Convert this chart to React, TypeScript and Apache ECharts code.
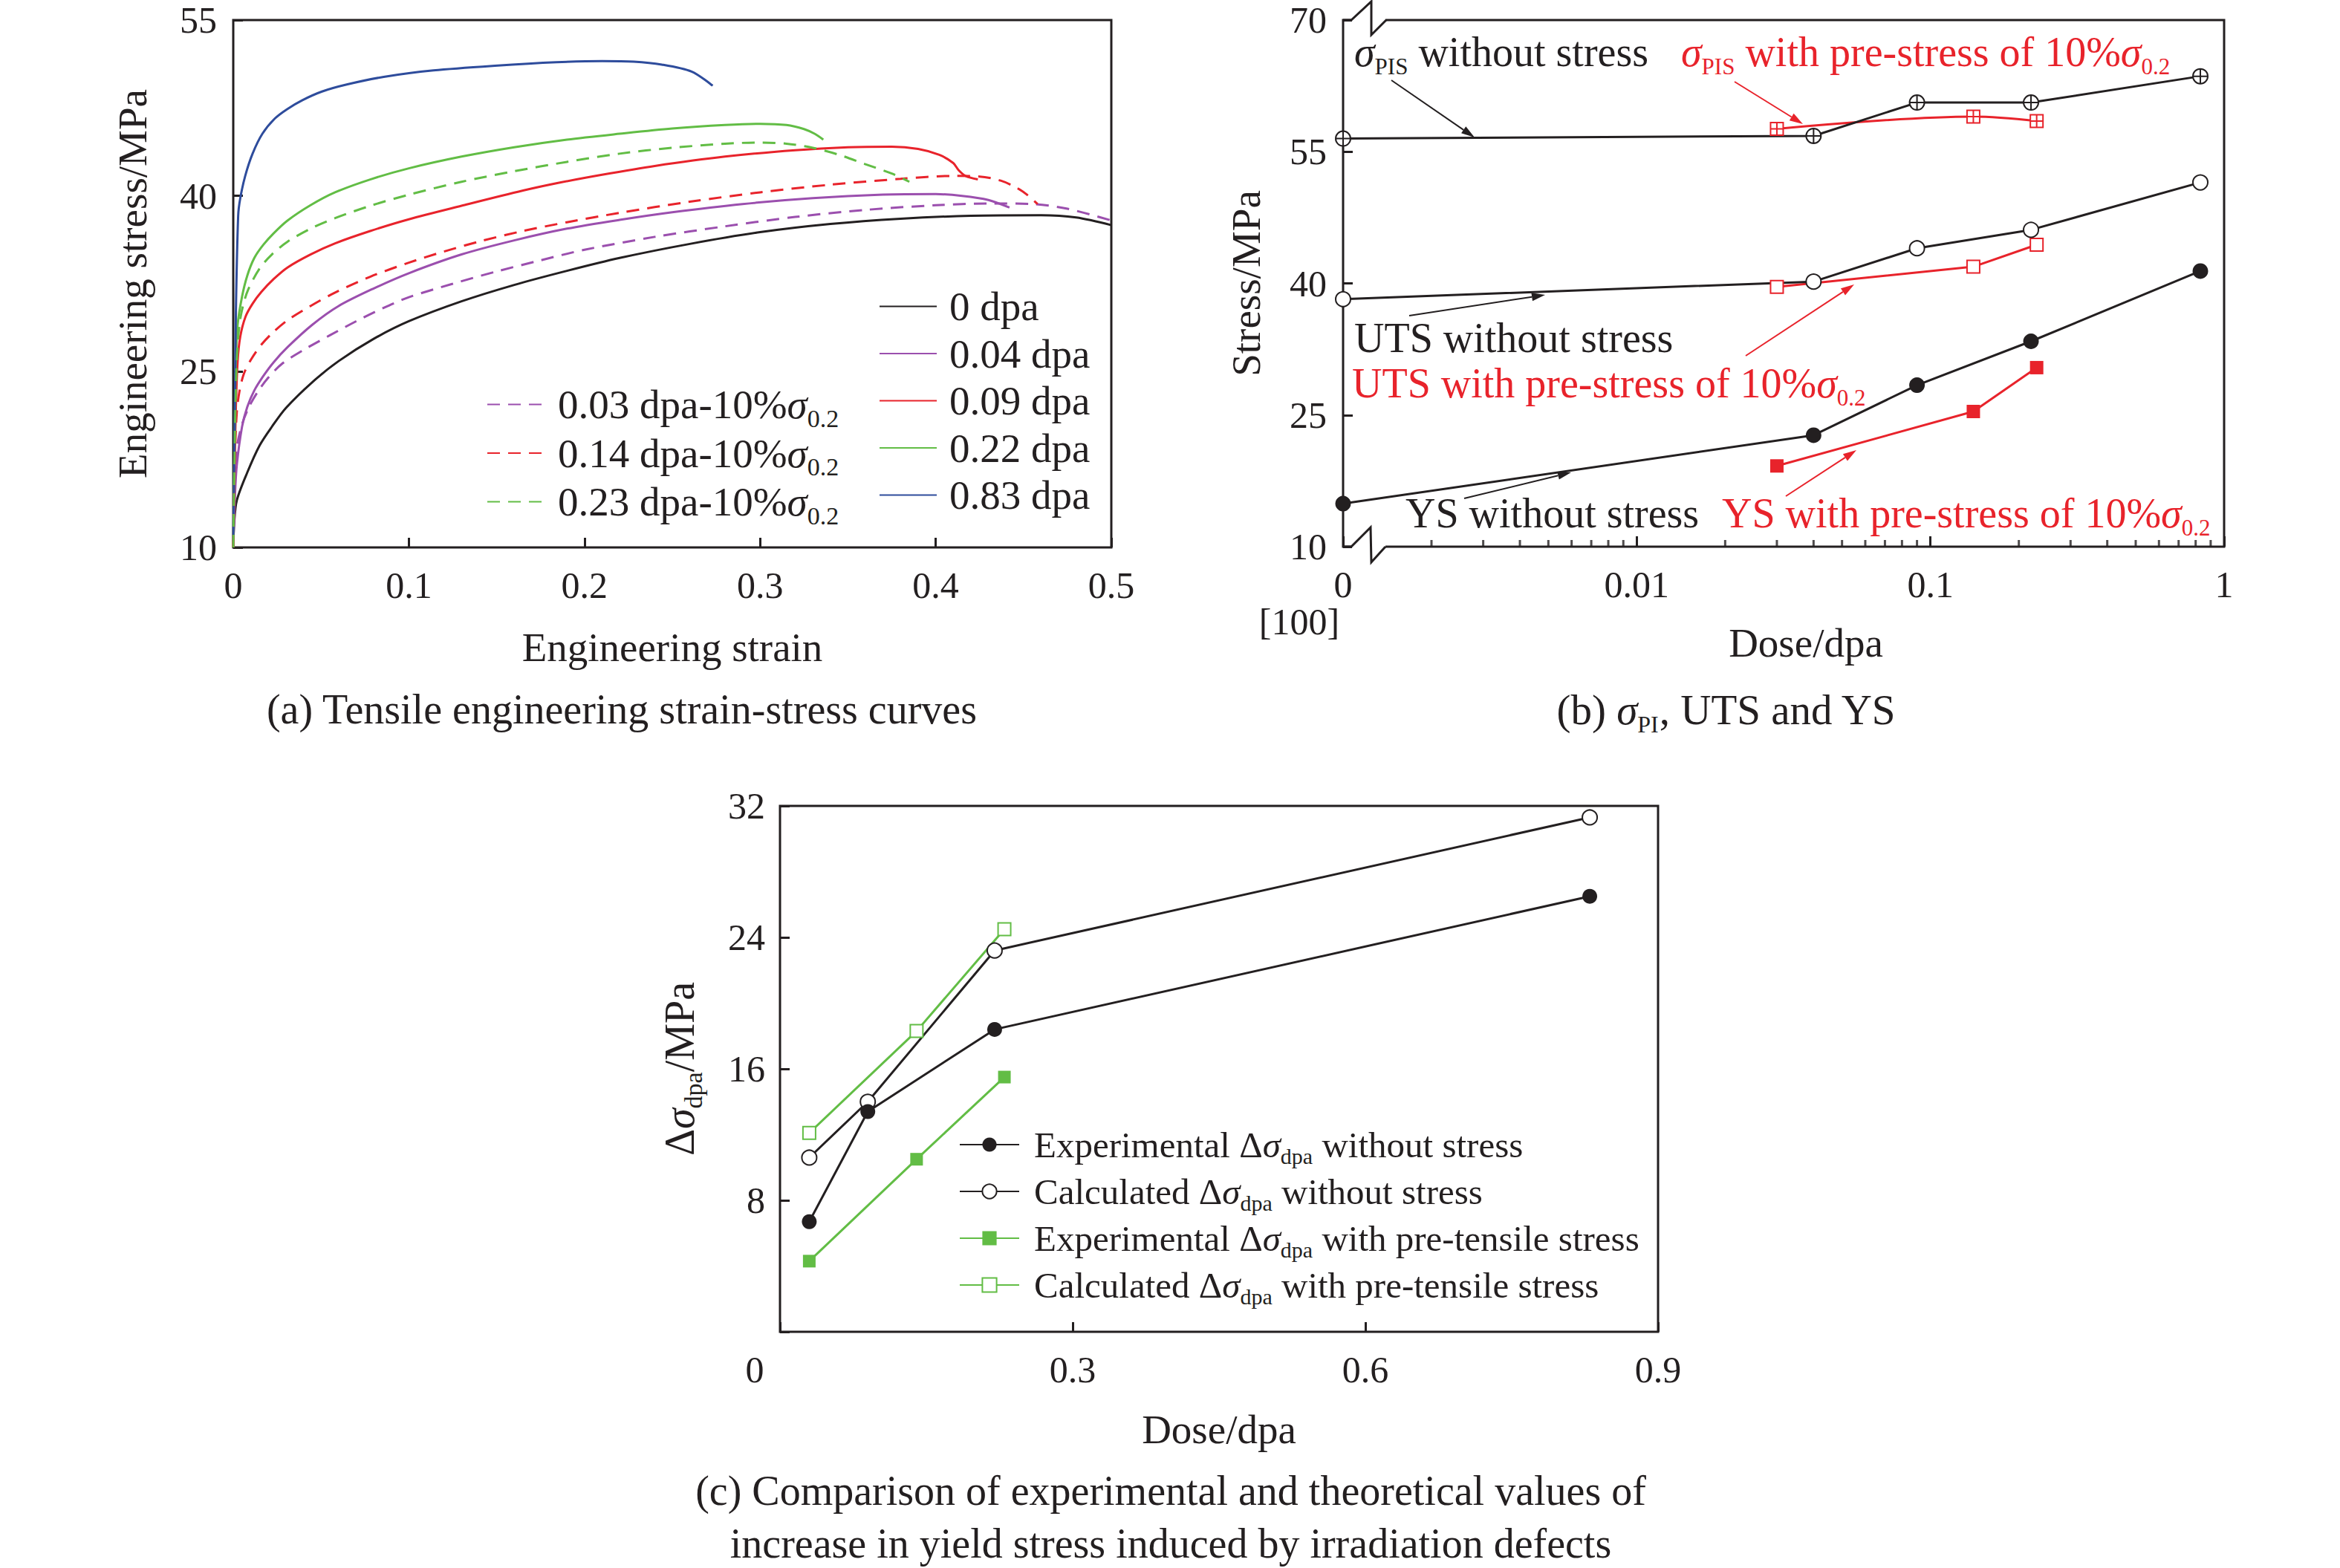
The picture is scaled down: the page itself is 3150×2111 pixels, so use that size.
import React, { useEffect, useRef } from 'react';
import * as echarts from 'echarts';

const FONT = "'Liberation Serif', 'Times New Roman', serif";
const BLACK = '#231f20';
const RED = '#e8232b';
const GREEN = '#62bd45';
const PURPLE = '#9b4fae';
const BLUE = '#2e4c9c';

// ---------- Panel (a): tensile curves [strain, stress MPa] ----------
const curve0dpa = [[0, 10.0], [0.0005, 12.0], [0.002, 14.0], [0.008, 16.4], [0.015, 18.7], [0.022, 20.3], [0.03, 21.9], [0.045, 24.1], [0.06, 25.9], [0.08, 27.8], [0.1, 29.3], [0.13, 31.0], [0.16, 32.4], [0.19, 33.6], [0.22, 34.7], [0.26, 35.9], [0.3, 36.9], [0.34, 37.6], [0.38, 38.05], [0.42, 38.3], [0.46, 38.35], [0.48, 38.15], [0.5, 37.5]];
const curve004dpa = [[0, 10], [0.001, 14.5], [0.002, 17], [0.005, 20.3], [0.008, 22.0], [0.012, 23.4], [0.017, 24.6], [0.023, 25.8], [0.031, 27.1], [0.045, 29.0], [0.06, 30.6], [0.08, 32.1], [0.1, 33.4], [0.13, 35.0], [0.16, 36.2], [0.19, 37.2], [0.22, 37.95], [0.25, 38.6], [0.29, 39.3], [0.33, 39.8], [0.37, 40.1], [0.4, 40.15], [0.415, 40.0], [0.43, 39.65], [0.442, 39.0]];
const curve009dpa = [[0, 10], [0.0008, 17], [0.0015, 22], [0.0025, 25.9], [0.004, 28.0], [0.007, 29.7], [0.011, 30.8], [0.016, 31.8], [0.023, 32.9], [0.031, 33.9], [0.044, 35.0], [0.058, 35.95], [0.078, 37.0], [0.1, 38.0], [0.13, 39.15], [0.165, 40.45], [0.185, 41.1], [0.21, 41.8], [0.24, 42.55], [0.28, 43.35], [0.32, 43.9], [0.35, 44.15], [0.375, 44.2], [0.39, 44.0], [0.402, 43.5], [0.41, 42.8], [0.413, 42.2], [0.417, 41.7], [0.424, 41.4]];
const curve022dpa = [[0, 10], [0.0008, 20], [0.0015, 26], [0.0025, 29.0], [0.005, 31.4], [0.008, 33.2], [0.012, 34.7], [0.017, 35.8], [0.023, 36.8], [0.031, 37.9], [0.044, 39.2], [0.058, 40.3], [0.078, 41.4], [0.1, 42.35], [0.13, 43.35], [0.16, 44.15], [0.19, 44.8], [0.22, 45.3], [0.25, 45.75], [0.28, 46.05], [0.3, 46.15], [0.315, 46.05], [0.325, 45.7], [0.331, 45.3], [0.336, 44.8]];
const curve083dpa = [[0, 10.5], [0.0008, 20], [0.0015, 30], [0.0028, 38.3], [0.004, 39.8], [0.0068, 41.7], [0.011, 43.6], [0.0166, 45.3], [0.0237, 46.6], [0.0307, 47.4], [0.0392, 48.15], [0.0505, 48.9], [0.0646, 49.5], [0.0857, 50.15], [0.114, 50.7], [0.149, 51.1], [0.184, 51.4], [0.21, 51.5], [0.228, 51.45], [0.244, 51.2], [0.261, 50.6], [0.273, 49.4]];
const curve003pre = [[0, 10], [0.001, 16], [0.002, 18.5], [0.005, 20.5], [0.009, 22.0], [0.014, 23.3], [0.02, 24.5], [0.028, 25.7], [0.04, 26.85], [0.055, 28.1], [0.07, 29.3], [0.085, 30.4], [0.1, 31.35], [0.125, 32.5], [0.15, 33.55], [0.175, 34.5], [0.2, 35.4], [0.24, 36.5], [0.28, 37.4], [0.32, 38.2], [0.36, 38.8], [0.4, 39.2], [0.43, 39.35], [0.455, 39.3], [0.475, 38.9], [0.5, 37.9]];
const curve014pre = [[0, 10], [0.001, 18], [0.002, 21.5], [0.0035, 23.3], [0.006, 24.8], [0.01, 26.0], [0.016, 27.3], [0.023, 28.4], [0.031, 29.4], [0.044, 30.6], [0.058, 31.75], [0.078, 33.1], [0.1, 34.3], [0.12, 35.25], [0.14, 36.1], [0.165, 37.0], [0.19, 37.75], [0.22, 38.55], [0.26, 39.5], [0.3, 40.3], [0.34, 40.95], [0.38, 41.45], [0.41, 41.7], [0.425, 41.65], [0.437, 41.3], [0.446, 40.7], [0.452, 40.1], [0.458, 39.3]];
const curve023pre = [[0, 10], [0.001, 20], [0.002, 26], [0.0035, 29.0], [0.0055, 30.6], [0.0085, 32.0], [0.015, 33.8], [0.022, 35.0], [0.031, 36.1], [0.044, 37.2], [0.058, 38.1], [0.078, 39.15], [0.1, 40.1], [0.13, 41.2], [0.16, 42.1], [0.19, 42.9], [0.22, 43.6], [0.25, 44.1], [0.28, 44.45], [0.3, 44.55], [0.315, 44.45], [0.33, 44.1], [0.345, 43.5], [0.36, 42.7], [0.375, 41.9], [0.385, 41.2]];

// ---------- Panel (b): stresses vs dose (log axis, 0 dpa drawn at 0.001) ----------
const pisWithout = [[0.001, 56.5], [0.04, 56.8], [0.09, 60.6], [0.22, 60.6], [0.83, 63.6]];
const pisWith = [[0.03, 57.6], [0.14, 59.0], [0.23, 58.5]];
const utsWithout = [[0.001, 38.2], [0.04, 40.2], [0.09, 44.0], [0.22, 46.1], [0.83, 51.5]];
const utsWith = [[0.03, 39.6], [0.14, 41.9], [0.23, 44.4]];
const ysWithout = [[0.001, 14.9], [0.04, 22.7], [0.09, 28.4], [0.22, 33.4], [0.83, 41.4]];
const ysWith = [[0.03, 19.2], [0.14, 25.4], [0.23, 30.4]];
const logMinorTicks = [0.002, 0.003, 0.004, 0.005, 0.006, 0.007, 0.008, 0.009, 0.02, 0.03, 0.04, 0.05, 0.06, 0.07, 0.08, 0.09, 0.2, 0.3, 0.4, 0.5, 0.6, 0.7, 0.8, 0.9];

// ---------- Panel (c): Δσ_dpa ----------
const doseNoStress = [0.03, 0.09, 0.22, 0.83];
const expNoStress = [6.7, 13.4, 18.4, 26.5];
const calcNoStress = [10.6, 14.0, 23.2, 31.3];
const dosePre = [0.03, 0.14, 0.23];
const expPre = [4.3, 10.5, 15.5];
const calcPre = [12.1, 18.3, 24.5];

const zip = (xs: number[], ys: number[]) => xs.map((x, i) => [x, ys[i]]);

// ---------- layout constants ----------
const GRID_A = { left: 314, top: 27, width: 1182, height: 710 };
const GRID_B = { left: 1808, top: 27, width: 1186, height: 709 };
const GRID_C = { left: 1050, top: 1085, width: 1182, height: 708 };

const ANNOTATIONS = [
  { text: '{i|σ}{s|PIS}{t| without stress}', x: 1823, y: 70, color: BLACK, from: [1873, 108], to: [1985, 185] },
  { text: '{i|σ}{s|PIS}{t| with pre-stress of 10%}{i|σ}{s|0.2}', x: 2263, y: 70, color: RED, from: [2335, 110], to: [2427, 167] },
  { text: '{t|UTS without stress}', x: 1823, y: 455, color: BLACK, from: [1897, 425], to: [2080, 397] },
  { text: '{t|UTS with pre-stress of 10%}{i|σ}{s|0.2}', x: 1820, y: 516, color: RED, from: [2350, 479], to: [2496, 383] },
  { text: '{t|YS without stress}', x: 1892, y: 691, color: BLACK, from: [1971, 671], to: [2115, 636] },
  { text: '{t|YS with pre-stress of 10%}{i|σ}{s|0.2}', x: 2318, y: 691, color: RED, from: [2404, 668], to: [2499, 606] },
];

const richA = {
  t: { fontFamily: FONT, fontSize: 55, color: BLACK, verticalAlign: 'middle' },
  i: { fontFamily: FONT, fontSize: 55, fontStyle: 'italic', color: BLACK, verticalAlign: 'middle' },
  s: { fontFamily: FONT, fontSize: 34, lineHeight: 30, padding: [37, 0, 0, 0], color: BLACK, verticalAlign: 'middle' },
};
const richC = {
  t: { fontFamily: FONT, fontSize: 49, color: BLACK, verticalAlign: 'middle' },
  i: { fontFamily: FONT, fontSize: 49, fontStyle: 'italic', color: BLACK, verticalAlign: 'middle' },
  s: { fontFamily: FONT, fontSize: 30, lineHeight: 28, padding: [30, 0, 0, 0], color: BLACK, verticalAlign: 'middle' },
};
const richName = {
  t: { fontFamily: FONT, fontSize: 56, lineHeight: 64, color: BLACK, verticalAlign: 'middle' },
  i: { fontFamily: FONT, fontSize: 56, lineHeight: 64, fontStyle: 'italic', color: BLACK, verticalAlign: 'middle' },
  s: { fontFamily: FONT, fontSize: 34, lineHeight: 28, padding: [36, 0, 0, 0], color: BLACK, verticalAlign: 'middle' },
};
const gRich = {
  t: { fontFamily: FONT, fontSize: 56, lineHeight: 63, verticalAlign: 'middle' },
  i: { fontFamily: FONT, fontSize: 56, lineHeight: 63, fontStyle: 'italic', verticalAlign: 'middle' },
  s: { fontFamily: FONT, fontSize: 31, lineHeight: 25, padding: [39, 0, 0, 0], verticalAlign: 'middle' },
};

const LEGEND_NAMES: Record<string, string> = {
  '0.03 dpa-10%σ0.2': '{t|0.03 dpa-10%}{i|σ}{s|0.2}',
  '0.14 dpa-10%σ0.2': '{t|0.14 dpa-10%}{i|σ}{s|0.2}',
  '0.23 dpa-10%σ0.2': '{t|0.23 dpa-10%}{i|σ}{s|0.2}',
  'Experimental Δσdpa without stress': '{t|Experimental Δ}{i|σ}{s|dpa}{t| without stress}',
  'Calculated Δσdpa without stress': '{t|Calculated Δ}{i|σ}{s|dpa}{t| without stress}',
  'Experimental Δσdpa with pre-tensile stress': '{t|Experimental Δ}{i|σ}{s|dpa}{t| with pre-tensile stress}',
  'Calculated Δσdpa with pre-tensile stress': '{t|Calculated Δ}{i|σ}{s|dpa}{t| with pre-tensile stress}',
};

const CIRCLE_CROSS = 'path://M10,0A10,10 0 1,1 10,20A10,10 0 1,1 10,0Z M0,10L20,10 M10,0L10,20';
const SQUARE_CROSS = 'path://M0,0L20,0L20,20L0,20Z M0,10L20,10 M10,0L10,20';

const tickStyle = { show: true, inside: true, length: 13, lineStyle: { color: BLACK, width: 3 } };
const labelBase = { fontFamily: FONT, fontSize: 50, color: BLACK };
const nameBase = { fontFamily: FONT, fontSize: 55, color: BLACK, lineHeight: 55 };

function arrowGraphics(from: number[], to: number[], color: string) {
  const dx = to[0] - from[0];
  const dy = to[1] - from[1];
  const len = Math.sqrt(dx * dx + dy * dy);
  const ux = dx / len, uy = dy / len;
  const head = 18, hw = 5.5;
  const bx = to[0] - ux * head, by = to[1] - uy * head;
  return [
    { type: 'line', z: 50, shape: { x1: from[0], y1: from[1], x2: bx, y2: by }, style: { stroke: color, lineWidth: 2 } },
    { type: 'polygon', z: 50, shape: { points: [[to[0], to[1]], [bx - uy * hw, by + ux * hw], [bx + uy * hw, by - ux * hw]] }, style: { fill: color } },
  ];
}

function curveSeries(name: string, data: number[][], color: string, dashed: boolean) {
  return {
    name, type: 'line', xAxisIndex: 0, yAxisIndex: 0, data,
    symbol: 'none', smooth: 0.3,
    lineStyle: { color, width: 3, type: dashed ? [17, 11] : 'solid' },
    itemStyle: { color },
  };
}

function buildOption() {
  const graphic: any[] = [];
  ANNOTATIONS.forEach((a) => {
    graphic.push({
      type: 'text', z: 50,
      style: { text: a.text, x: a.x, y: a.y, fill: a.color, fontFamily: FONT, fontSize: 56, lineHeight: 63, align: 'left', verticalAlign: 'middle', rich: gRich },
    });
    graphic.push(...arrowGraphics(a.from, a.to, a.color));
  });
  // axis break marks on panel (b)
  graphic.push({ type: 'rect', z: 60, shape: { x: 1820, y: 21, width: 45, height: 12 }, style: { fill: '#fff' } });
  graphic.push({ type: 'polyline', z: 61, shape: { points: [[1808, 27], [1819, 27], [1846, 2], [1846, 47], [1866, 27]] }, style: { stroke: BLACK, lineWidth: 3, fill: null } });
  graphic.push({ type: 'rect', z: 60, shape: { x: 1820, y: 730, width: 45, height: 12 }, style: { fill: '#fff' } });
  graphic.push({ type: 'polyline', z: 61, shape: { points: [[1808, 736], [1819, 736], [1845, 710], [1846, 757], [1865, 736]] }, style: { stroke: BLACK, lineWidth: 3, fill: null } });
  // captions
  graphic.push({ type: 'text', z: 50, style: { text: '(a) Tensile engineering strain-stress curves', x: 837, y: 955, align: 'center', verticalAlign: 'middle', fill: BLACK, fontFamily: FONT, fontSize: 56 } });
  graphic.push({
    type: 'text', z: 50,
    style: {
      text: '{t|(b) }{i|σ}{s|PI}{t|, UTS and YS}', x: 2324, y: 955, align: 'center', verticalAlign: 'middle', fill: BLACK, fontFamily: FONT, fontSize: 57, lineHeight: 63,
      rich: { t: { fontFamily: FONT, fontSize: 57, lineHeight: 63 }, i: { fontFamily: FONT, fontSize: 57, lineHeight: 63, fontStyle: 'italic' }, s: { fontFamily: FONT, fontSize: 32, lineHeight: 25, padding: [39, 0, 0, 0] } },
    },
  });
  graphic.push({ type: 'text', z: 50, style: { text: '(c) Comparison of experimental and theoretical values of', x: 1576, y: 2007, align: 'center', verticalAlign: 'middle', fill: BLACK, fontFamily: FONT, fontSize: 56 } });
  graphic.push({ type: 'text', z: 50, style: { text: 'increase in yield stress induced by irradiation defects', x: 1576, y: 2078, align: 'center', verticalAlign: 'middle', fill: BLACK, fontFamily: FONT, fontSize: 56 } });

  const gridCommon = { show: true, borderColor: BLACK, borderWidth: 3, backgroundColor: 'transparent', containLabel: false };

  return {
    animation: false,
    backgroundColor: '#fff',
    grid: [
      { ...gridCommon, ...GRID_A },
      { ...gridCommon, ...GRID_B },
      { ...gridCommon, ...GRID_C },
    ],
    xAxis: [
      {
        gridIndex: 0, type: 'value', min: 0, max: 0.5, interval: 0.1,
        axisLine: { show: false }, axisTick: tickStyle, splitLine: { show: false },
        axisLabel: { ...labelBase, margin: 26, lineHeight: 50, formatter: (v: number) => String(Number(v.toFixed(2))) },
        name: 'Engineering strain', nameLocation: 'middle', nameGap: 107, nameMoveOverlap: false, nameTextStyle: nameBase,
      },
      {
        gridIndex: 1, type: 'log', logBase: 10, min: 0.001, max: 1,
        axisLine: { show: false }, axisTick: { ...tickStyle, length: 14 }, splitLine: { show: false }, minorTick: { show: false },
        axisLabel: {
          ...labelBase, margin: 26, lineHeight: 50,
          formatter: (v: number) => {
            if (Math.abs(v - 0.001) < 1e-7) return '{a|0}\n{b|[100]}';
            if (Math.abs(v - 0.01) < 1e-7) return '0.01';
            if (Math.abs(v - 0.1) < 1e-6) return '0.1';
            if (Math.abs(v - 1) < 1e-6) return '1';
            return '';
          },
          rich: {
            a: { fontFamily: FONT, fontSize: 50, lineHeight: 50, color: BLACK },
            b: { fontFamily: FONT, fontSize: 50, lineHeight: 50, color: BLACK, padding: [0, 118, 0, 0] },
          },
        },
        name: 'Dose/dpa', nameLocation: 'middle', nameGap: 102, nameMoveOverlap: false,
        nameTextStyle: { ...nameBase, padding: [0, 0, 0, 60] },
      },
      {
        gridIndex: 2, type: 'value', min: 0, max: 0.9, interval: 0.3,
        axisLine: { show: false }, axisTick: tickStyle, splitLine: { show: false },
        axisLabel: {
          ...labelBase, margin: 26, lineHeight: 50,
          formatter: (v: number) => (v === 0 ? '{z|0}' : String(Number(v.toFixed(2)))),
          rich: { z: { fontFamily: FONT, fontSize: 50, lineHeight: 50, color: BLACK, padding: [0, 68, 0, 0] } },
        },
        name: 'Dose/dpa', nameLocation: 'middle', nameGap: 104, nameMoveOverlap: false, nameTextStyle: nameBase,
      },
    ],
    yAxis: [
      {
        gridIndex: 0, type: 'value', min: 10, max: 55, interval: 15,
        axisLine: { show: false }, axisTick: tickStyle, splitLine: { show: false },
        axisLabel: { ...labelBase, margin: 22 },
        name: 'Engineering stress/MPa', nameLocation: 'middle', nameGap: 108, nameRotate: 90, nameMoveOverlap: false, nameTextStyle: nameBase,
      },
      {
        gridIndex: 1, type: 'value', min: 10, max: 70, interval: 15,
        axisLine: { show: false }, axisTick: tickStyle, splitLine: { show: false },
        axisLabel: { ...labelBase, margin: 22 },
        name: 'Stress/MPa', nameLocation: 'middle', nameGap: 103, nameRotate: 90, nameMoveOverlap: false, nameTextStyle: nameBase,
      },
      {
        gridIndex: 2, type: 'value', min: 0, max: 32, interval: 8,
        axisLine: { show: false }, axisTick: tickStyle, splitLine: { show: false },
        axisLabel: { ...labelBase, margin: 20, formatter: (v: number) => (v === 0 ? '' : String(v)) },
        name: '{t|Δ}{i|σ}{s|dpa}{t|/MPa}', nameLocation: 'middle', nameGap: 103, nameRotate: 90, nameMoveOverlap: false,
        nameTextStyle: { ...nameBase, lineHeight: 64, rich: richName },
      },
    ],
    legend: [
      {
        orient: 'vertical', left: 1183, top: 385, padding: 0, itemWidth: 77, itemHeight: 3, itemGap: 8.5, selectedMode: false,
        data: ['0 dpa', '0.04 dpa', '0.09 dpa', '0.22 dpa', '0.83 dpa'],
        formatter: (n: string) => `{t|${n}}`,
        textStyle: { padding: [0, 0, 0, 12], rich: richA },
        itemStyle: { opacity: 0 },
      },
      {
        orient: 'vertical', left: 655, top: 509, padding: 0, itemWidth: 73, itemHeight: 3, itemGap: -5.5, selectedMode: false,
        data: ['0.03 dpa-10%σ0.2', '0.14 dpa-10%σ0.2', '0.23 dpa-10%σ0.2'],
        formatter: (n: string) => LEGEND_NAMES[n] || n,
        textStyle: { padding: [0, 0, 0, 17], rich: richA },
        itemStyle: { opacity: 0 },
      },
      {
        orient: 'vertical', left: 1291, top: 1511, padding: 0, itemWidth: 80, itemHeight: 24, itemGap: 3, selectedMode: false,
        data: ['Experimental Δσdpa without stress', 'Calculated Δσdpa without stress', 'Experimental Δσdpa with pre-tensile stress', 'Calculated Δσdpa with pre-tensile stress'],
        formatter: (n: string) => LEGEND_NAMES[n] || n,
        textStyle: { padding: [0, 0, 0, 15], rich: richC },
      },
    ],
    series: [
      // panel a
      curveSeries('0 dpa', curve0dpa, BLACK, false),
      curveSeries('0.04 dpa', curve004dpa, PURPLE, false),
      curveSeries('0.09 dpa', curve009dpa, RED, false),
      curveSeries('0.22 dpa', curve022dpa, GREEN, false),
      curveSeries('0.83 dpa', curve083dpa, BLUE, false),
      curveSeries('0.03 dpa-10%σ0.2', curve003pre, PURPLE, true),
      curveSeries('0.14 dpa-10%σ0.2', curve014pre, RED, true),
      curveSeries('0.23 dpa-10%σ0.2', curve023pre, GREEN, true),
      // panel b
      {
        name: 'logMinorTicks', type: 'scatter', xAxisIndex: 1, yAxisIndex: 1, silent: true, z: 1,
        data: logMinorTicks.map((v) => [v, 10]), symbol: 'rect', symbolSize: [3, 9], symbolOffset: [0, -4.5],
        itemStyle: { color: BLACK },
      },
      {
        name: 'σPIS with pre-stress', type: 'line', xAxisIndex: 1, yAxisIndex: 1, data: pisWith, clip: false, smooth: 0.35,
        symbol: SQUARE_CROSS, symbolSize: 17, lineStyle: { color: RED, width: 3 }, itemStyle: { color: '#fff', borderColor: RED, borderWidth: 2 },
      },
      {
        name: 'σPIS without stress', type: 'line', xAxisIndex: 1, yAxisIndex: 1, data: pisWithout, clip: false,
        symbol: CIRCLE_CROSS, symbolSize: 20, lineStyle: { color: BLACK, width: 3 }, itemStyle: { color: '#fff', borderColor: BLACK, borderWidth: 2 },
      },
      {
        name: 'UTS with pre-stress', type: 'line', xAxisIndex: 1, yAxisIndex: 1, data: utsWith, clip: false,
        symbol: 'rect', symbolSize: 17, lineStyle: { color: RED, width: 3 }, itemStyle: { color: '#fff', borderColor: RED, borderWidth: 2 },
      },
      {
        name: 'UTS without stress', type: 'line', xAxisIndex: 1, yAxisIndex: 1, data: utsWithout, clip: false,
        symbol: 'circle', symbolSize: 20, lineStyle: { color: BLACK, width: 3 }, itemStyle: { color: '#fff', borderColor: BLACK, borderWidth: 2 },
      },
      {
        name: 'YS with pre-stress', type: 'line', xAxisIndex: 1, yAxisIndex: 1, data: ysWith, clip: false,
        symbol: 'rect', symbolSize: 18, lineStyle: { color: RED, width: 3 }, itemStyle: { color: RED },
      },
      {
        name: 'YS without stress', type: 'line', xAxisIndex: 1, yAxisIndex: 1, data: ysWithout, clip: false,
        symbol: 'circle', symbolSize: 21, lineStyle: { color: BLACK, width: 3 }, itemStyle: { color: BLACK },
      },
      // panel c
      {
        name: 'Calculated Δσdpa with pre-tensile stress', type: 'line', xAxisIndex: 2, yAxisIndex: 2, data: zip(dosePre, calcPre), clip: false,
        symbol: 'rect', symbolSize: 17, lineStyle: { color: GREEN, width: 3 }, itemStyle: { color: '#fff', borderColor: GREEN, borderWidth: 2 },
      },
      {
        name: 'Experimental Δσdpa with pre-tensile stress', type: 'line', xAxisIndex: 2, yAxisIndex: 2, data: zip(dosePre, expPre), clip: false,
        symbol: 'rect', symbolSize: 17, lineStyle: { color: GREEN, width: 3 }, itemStyle: { color: GREEN },
      },
      {
        name: 'Calculated Δσdpa without stress', type: 'line', xAxisIndex: 2, yAxisIndex: 2, data: zip(doseNoStress, calcNoStress), clip: false,
        symbol: 'circle', symbolSize: 20, lineStyle: { color: BLACK, width: 3 }, itemStyle: { color: '#fff', borderColor: BLACK, borderWidth: 2 },
      },
      {
        name: 'Experimental Δσdpa without stress', type: 'line', xAxisIndex: 2, yAxisIndex: 2, data: zip(doseNoStress, expNoStress), clip: false,
        symbol: 'circle', symbolSize: 20, lineStyle: { color: BLACK, width: 3 }, itemStyle: { color: BLACK },
      },
    ],
    graphic,
  };
}

export default function App() {
  const ref = useRef<HTMLDivElement>(null);
  useEffect(() => {
    document.body.style.margin = '0';
    const chart = echarts.init(ref.current as HTMLDivElement, null, { renderer: 'svg' });
    chart.setOption(buildOption() as any);
    return () => chart.dispose();
  }, []);
  return <div ref={ref} style={{ width: 3150, height: 2111, background: '#fff' }} />;
}
